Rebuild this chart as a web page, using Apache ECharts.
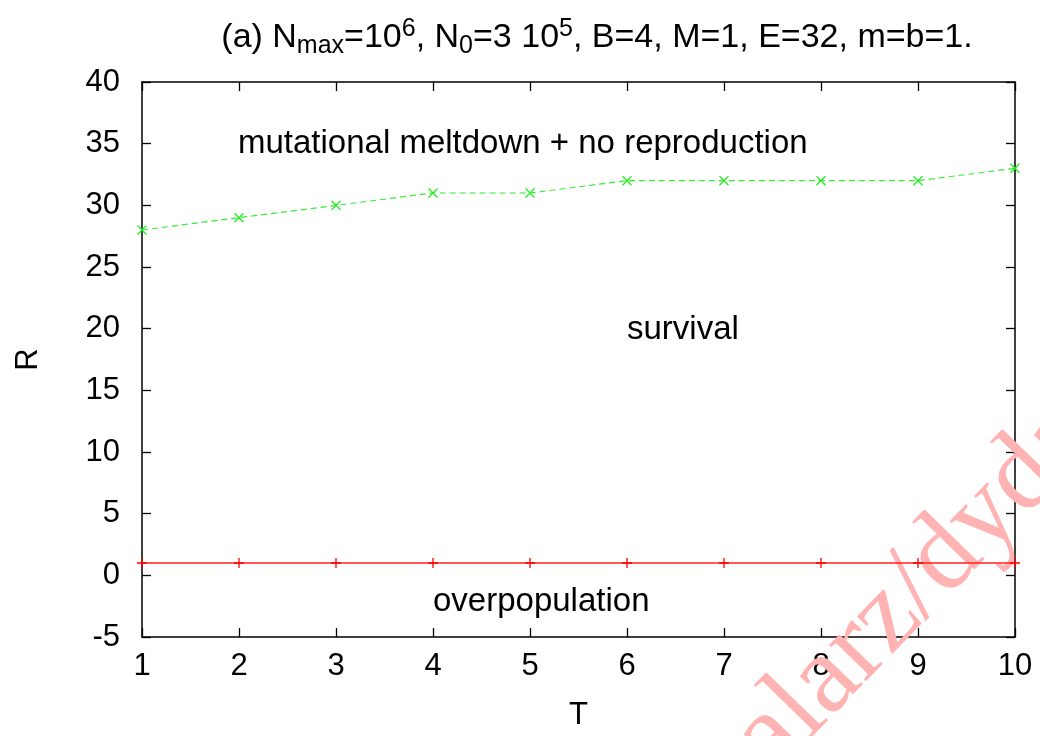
<!DOCTYPE html>
<html>
<head>
<meta charset="utf-8">
<script src="https://cdn.jsdelivr.net/npm/echarts@6/dist/echarts.min.js"></script>
<style>html,body{margin:0;padding:0;background:#fff}#c{width:1040px;height:736px}</style>
</head>
<body>
<div id="c"></div>
<script>
var T = [1, 2, 3, 4, 5, 6, 7, 8, 9, 10];
var meltdown = [28, 29, 30, 31, 31, 32, 32, 32, 32, 33];
var overpop = [1, 1, 1, 1, 1, 1, 1, 1, 1, 1];
var xTicks = [1, 2, 3, 4, 5, 6, 7, 8, 9, 10];
var yTicks = [-5, 0, 5, 10, 15, 20, 25, 30, 35, 40];

var chart = echarts.init(document.getElementById('c'), null, {renderer: 'canvas'});
var FONT = 'Liberation Sans, Arial, sans-serif';
var axisCommon = {
  type: 'value',
  axisLine: {show: true, onZero: false, lineStyle: {color: '#000', width: 1.5}},
  axisTick: {show: true, inside: true, length: 9, lineStyle: {color: '#000', width: 1.3}},
  splitLine: {show: false}
};
function mk(a, b) { return Object.assign({}, a, b); }
var xSpec = {min: xTicks[0], max: xTicks[xTicks.length - 1], interval: 1};
var ySpec = {min: yTicks[0], max: yTicks[yTicks.length - 1], interval: 5};

chart.setOption({
  animation: false,
  backgroundColor: '#fff',
  title: {
    text: '(a) N{sub|max}=10{sup|6}, N{sub|0}=3 10{sup|5}, B=4, M=1, E=32, m=b=1.',
    left: 592, top: 12, textAlign: 'center',
    textStyle: {
      fontFamily: FONT, fontSize: 34, fontWeight: 'normal', color: '#000',
      rich: {
        sub: {fontFamily: FONT, fontSize: 25, verticalAlign: 'bottom', padding: [17, 0, 0, 0], color: '#000'},
        sup: {fontFamily: FONT, fontSize: 25, verticalAlign: 'top', padding: [0, 0, 17, 0], color: '#000'}
      }
    }
  },
  grid: {left: 142, right: 25, top: 82, bottom: 96, containLabel: false},
  xAxis: [
    mk(axisCommon, mk(xSpec, {
      position: 'bottom', name: 'T', nameLocation: 'middle', nameGap: 63,
      nameTextStyle: {fontFamily: FONT, fontSize: 31, color: '#000'},
      axisLabel: {fontFamily: FONT, fontSize: 31, color: '#000', margin: 14}
    })),
    mk(axisCommon, mk(xSpec, {position: 'top', axisLabel: {show: false}}))
  ],
  yAxis: [
    mk(axisCommon, mk(ySpec, {
      position: 'left', name: 'R', nameLocation: 'middle', nameGap: 98,
      nameTextStyle: {fontFamily: FONT, fontSize: 31, color: '#000'},
      axisLabel: {fontFamily: FONT, fontSize: 31, color: '#000', margin: 22}
    })),
    mk(axisCommon, mk(ySpec, {position: 'right', axisLabel: {show: false}}))
  ],
  series: [
    {
      type: 'line', name: 'meltdown', data: T.map(function (t, i) { return [t, meltdown[i]]; }),
      lineStyle: {color: '#33ee33', width: 1.2, type: [6, 4]},
      symbol: 'path://M0,0L10,10M10,0L0,10', symbolSize: 9,
      itemStyle: {color: 'none', borderColor: '#22ee22', borderWidth: 1.3},
      clip: false, z: 3
    },
    {
      type: 'line', name: 'overpop', data: T.map(function (t, i) { return [t, overpop[i]]; }),
      lineStyle: {color: '#ff2020', width: 1.3},
      symbol: 'path://M5,0L5,10M0,5L10,5', symbolSize: 10,
      itemStyle: {color: 'none', borderColor: '#ff0000', borderWidth: 1.3},
      clip: false, z: 3
    }
  ],
  graphic: [
    {type: 'text', x: 238, y: 144, style: {text: 'mutational meltdown + no reproduction', font: '33px ' + FONT, fill: '#000', textVerticalAlign: 'middle'}},
    {type: 'text', x: 627, y: 330, style: {text: 'survival', font: '33px ' + FONT, fill: '#000', textVerticalAlign: 'middle'}},
    {type: 'text', x: 433, y: 602, style: {text: 'overpopulation', font: '33px ' + FONT, fill: '#000', textVerticalAlign: 'middle'}},
    {type: 'text', x: 712, y: 717, rotation: 0.8, z: 1, silent: true,
     style: {text: 'alarz/dydaktyka', font: '112px Liberation Serif, DejaVu Serif, serif', fill: '#ffb3b3', textVerticalAlign: 'alphabetic'}}
  ]
});
</script>
</body>
</html>
